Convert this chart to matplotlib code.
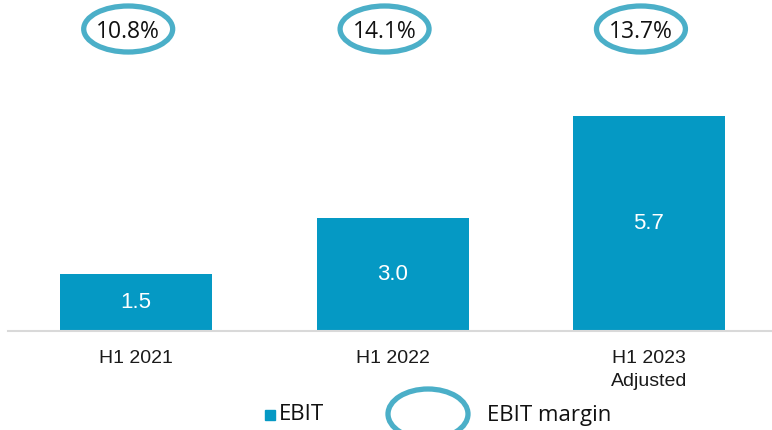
import matplotlib
matplotlib.use("Agg")
import matplotlib.pyplot as plt
from matplotlib.patches import Ellipse, Rectangle

categories = ["H1 2021", "H1 2022", "H1 2023\nAdjusted"]
ebit = [1.5, 3.0, 5.7]
ebit_labels = ["1.5", "3.0", "5.7"]
margins = ["10.8%", "14.1%", "13.7%"]

BAR = "#0599C4"
RING = "#4BAFC8"
W, H = 772, 430
fig = plt.figure(figsize=(W/100, H/100), dpi=100)

ax = fig.add_axes([8/W, 99/H, 1 - 8/W, 331/H])
x = list(range(len(categories)))
ax.bar(x, ebit, width=0.593, color=BAR, zorder=2)
ax.set_xlim(-0.5, 2.48)
ax.set_ylim(0, 331/37.7)
for s in ["top", "right", "left"]:
    ax.spines[s].set_visible(False)
ax.spines["bottom"].set_color("#D9D9D9")
ax.spines["bottom"].set_linewidth(1.5)
ax.set_yticks([])
ax.set_xticks(x)
ax.set_xticklabels(categories, fontsize=14, color="#1a1a1a", family="Liberation Sans", linespacing=1.45)
ax.tick_params(axis="x", length=0, pad=14)

for xi, v, lab in zip(x, ebit, ebit_labels):
    ax.text(xi, v/2, lab, ha="center", va="center", color="white", fontsize=16, family="Liberation Sans")

ymarg = (331 - 29) / 37.7
ytext = (331 - 31.5) / 37.7
for xi, m in zip(x, margins):
    cx = xi - 8/256.5
    ax.add_patch(Ellipse((cx, ymarg), 89/256.5, 46/37.7, fill=False, edgecolor=RING, linewidth=3.8, clip_on=False, zorder=3))
    ax.text(cx, ytext, m, ha="center", va="center", fontsize=16.5, color="#111111", family="Open Sans")

# legend
fig.patches.append(Rectangle((265/W, 1 - 420/H), 10/W, 10/H, transform=fig.transFigure, color=BAR, figure=fig))
fig.text(279/W, 1 - 415/H, "EBIT", ha="left", va="center", fontsize=16, color="#111111", family="Open Sans")
fig.patches.append(Ellipse((428/W, 1 - 414/H), 80/W, 50/H, transform=fig.transFigure, fill=False, edgecolor=RING, linewidth=3.8, figure=fig))
fig.text(487/W, 1 - 415/H, "EBIT margin", ha="left", va="center", fontsize=16, color="#111111", family="Open Sans")

fig.savefig("out.png", dpi=100)
